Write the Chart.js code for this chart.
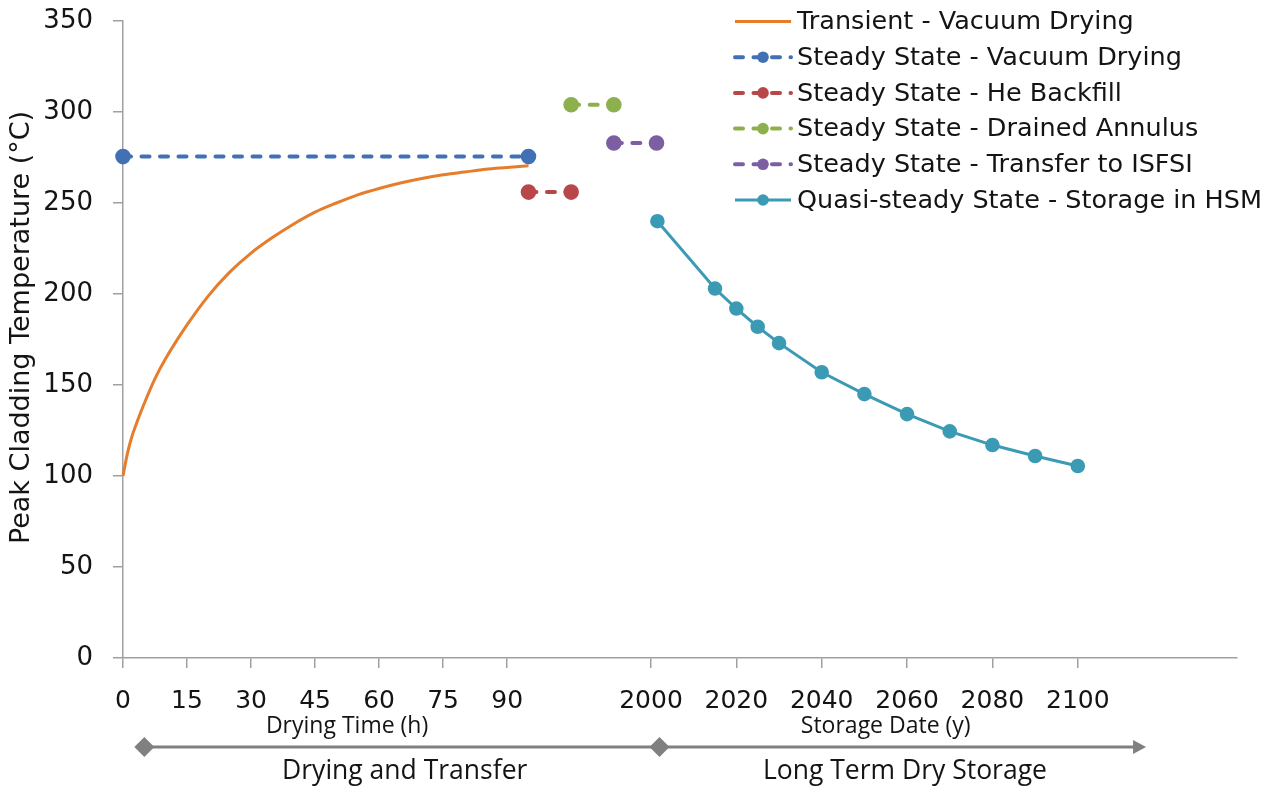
<!DOCTYPE html>
<html lang="en">
<head>
<meta charset="UTF-8">
<title>Peak Cladding Temperature</title>
<script src="https://cdn.jsdelivr.net/npm/chart.js"></script>
<style>
  html, body { margin: 0; padding: 0; background: #fff; }
</style>
</head>
<body>
<canvas id="pctChart" width="1271" height="789"></canvas>
<script>
// drying and transfer phase, x in hours
const dryHours = [0, 1, 2, 3.5, 5, 7.5, 10, 15, 20, 25, 30, 35, 40, 45, 50, 55, 60, 65, 70, 75, 80, 85, 90, 95];
const transientVac = [100, 112, 121, 131, 140, 153.5, 164.5, 183, 199, 212, 222.5, 231, 238.5, 245, 250, 254.5, 258, 261, 263.5, 265.5, 267, 268.5, 269.5, 270.5];

const steadyVacHours = [0, 95];
const steadyVac = [275.5, 275.5];
const heBackfillHours = [95, 105];
const heBackfill = [256, 256];
const drainedHours = [105, 115];
const drained = [304, 304];
const transferHours = [115, 125];
const transfer = [283, 283];

// long term storage, x in years
const storageYears = [2001.5, 2015, 2020, 2025, 2030, 2040, 2050, 2060, 2070, 2080, 2090, 2100];
const storageHSM = [240, 203, 192, 182, 173, 157, 145, 134, 124.5, 117, 111, 105.5];

const hourTicks = [0, 15, 30, 45, 60, 75, 90];
const yearTicks = [2000, 2020, 2040, 2060, 2080, 2100];
const tempTicks = [0, 50, 100, 150, 200, 250, 300, 350];

const HOUR_MIN = 0, HOUR_MAX = 261;
const YEAR_MIN = 1876.3, YEAR_MAX = 2137.3;

const TEXT = '#141414';
const GREY = '#a0a0a0';

function pairs(xs, ys) {
  return xs.map((x, i) => ({ x: x, y: ys[i] }));
}

function dashed(label, color, xs, ys) {
  return {
    label: label,
    data: pairs(xs, ys),
    borderColor: color,
    backgroundColor: color,
    pointBackgroundColor: color,
    pointBorderColor: color,
    borderWidth: 4,
    borderDash: [8, 10.5],
    borderCapStyle: 'round',
    pointRadius: 5.8,
    clip: false
  };
}

const datasets = [
  {
    label: 'Transient - Vacuum Drying',
    data: pairs(dryHours, transientVac),
    borderColor: '#e67d2c',
    borderWidth: 3,
    pointRadius: 0,
    cubicInterpolationMode: 'monotone',
    clip: false
  },
  dashed('Steady State - Vacuum Drying', '#4170b4', steadyVacHours, steadyVac),
  dashed('Steady State - He Backfill', '#b8474a', heBackfillHours, heBackfill),
  dashed('Steady State - Drained Annulus', '#8db04e', drainedHours, drained),
  dashed('Steady State - Transfer to ISFSI', '#7b5fa2', transferHours, transfer),
  {
    label: 'Quasi-steady State - Storage in HSM',
    data: pairs(storageYears, storageHSM),
    xAxisID: 'x2',
    borderColor: '#3b9ab4',
    backgroundColor: '#3b9ab4',
    pointBackgroundColor: '#3b9ab4',
    pointBorderColor: '#3b9ab4',
    borderWidth: 3,
    pointRadius: 5.8,
    clip: false
  }
];

// legend, axis title and the phase arrows below the axis
const extras = {
  id: 'extras',
  afterDraw(chart) {
    const ctx = chart.ctx;
    const area = chart.chartArea;
    const hx = chart.scales.x;
    const yx = chart.scales.x2;
    ctx.save();

    // y axis title
    ctx.save();
    ctx.translate(22, (area.top + area.bottom) / 2 - 12);
    ctx.rotate(-Math.PI / 2);
    ctx.font = '27px "DejaVu Sans"';
    ctx.fillStyle = TEXT;
    ctx.textAlign = 'center';
    ctx.textBaseline = 'middle';
    ctx.fillText('Peak Cladding Temperature (°C)', 0, 0);
    ctx.restore();

    // legend
    chart.data.datasets.forEach((ds, i) => {
      const y = 21.5 + i * 35.7;
      ctx.strokeStyle = ds.borderColor;
      ctx.lineWidth = ds.borderWidth;
      ctx.lineCap = ds.borderCapStyle || 'butt';
      ctx.setLineDash(ds.borderDash || []);
      ctx.beginPath();
      ctx.moveTo(735, y);
      ctx.lineTo(791, y);
      ctx.stroke();
      ctx.setLineDash([]);
      if (ds.pointRadius > 0) {
        ctx.fillStyle = ds.borderColor;
        ctx.beginPath();
        ctx.arc(763, y, ds.pointRadius, 0, Math.PI * 2);
        ctx.fill();
      }
      ctx.fillStyle = TEXT;
      ctx.font = '25.5px "DejaVu Sans"';
      ctx.textAlign = 'left';
      ctx.textBaseline = 'middle';
      ctx.fillText(ds.label, 797, y + 1);
    });

    // axis names
    const b = area.bottom;
    ctx.fillStyle = TEXT;
    ctx.textAlign = 'center';
    ctx.textBaseline = 'middle';
    ctx.font = '23px "Open Sans"';
    ctx.fillText('Drying Time (h)', hx.getPixelForValue(52.5), b + 68);
    ctx.fillText('Storage Date (y)', yx.getPixelForValue(2055), b + 68);

    // phase arrow
    const ay = b + 89;
    const x0 = hx.getPixelForValue(5);
    const x1 = yx.getPixelForValue(2002);
    const xt = yx.getPixelForValue(2116);
    ctx.strokeStyle = '#808080';
    ctx.fillStyle = '#808080';
    ctx.lineWidth = 3;
    ctx.lineCap = 'butt';
    ctx.beginPath();
    ctx.moveTo(x0, ay);
    ctx.lineTo(xt - 10, ay);
    ctx.stroke();
    ctx.beginPath();
    ctx.moveTo(xt, ay);
    ctx.lineTo(xt - 13, ay - 7);
    ctx.lineTo(xt - 13, ay + 7);
    ctx.closePath();
    ctx.fill();
    [x0, x1].forEach(x => {
      ctx.beginPath();
      ctx.moveTo(x, ay - 10);
      ctx.lineTo(x + 10, ay);
      ctx.lineTo(x, ay + 10);
      ctx.lineTo(x - 10, ay);
      ctx.closePath();
      ctx.fill();
    });

    ctx.fillStyle = TEXT;
    ctx.font = '26.5px "Open Sans"';
    ctx.fillText('Drying and Transfer', hx.getPixelForValue(66), b + 113);
    ctx.fillText('Long Term Dry Storage', yx.getPixelForValue(2059.5), b + 113);

    ctx.restore();
  }
};

new Chart(document.getElementById('pctChart'), {
  type: 'line',
  data: { datasets: datasets },
  options: {
    responsive: false,
    animation: false,
    devicePixelRatio: 1,
    layout: { padding: { top: 21, right: 34, left: 0, bottom: 0 } },
    plugins: {
      legend: { display: false },
      tooltip: { enabled: false }
    },
    scales: {
      x: {
        type: 'linear',
        position: 'bottom',
        min: HOUR_MIN,
        max: HOUR_MAX,
        border: { display: true, color: GREY, width: 1.5 },
        grid: { drawOnChartArea: false, drawTicks: true, tickLength: 10, color: GREY, lineWidth: 1.5 },
        ticks: {
          autoSkip: false,
          maxRotation: 0,
          minRotation: 0,
          padding: 18,
          color: TEXT,
          font: { family: '"DejaVu Sans"', size: 25 },
          callback: (v, i) => i < hourTicks.length ? hourTicks[i] : yearTicks[i - hourTicks.length]
        },
        afterBuildTicks: axis => {
          const k = (HOUR_MAX - HOUR_MIN) / (YEAR_MAX - YEAR_MIN);
          axis.ticks = hourTicks.map(v => ({ value: v }))
            .concat(yearTicks.map(yr => ({ value: HOUR_MIN + (yr - YEAR_MIN) * k })));
        },
        afterFit: axis => { axis.height = 131; }
      },
      x2: {
        type: 'linear',
        position: 'bottom',
        display: false,
        min: YEAR_MIN,
        max: YEAR_MAX
      },
      y: {
        min: 0,
        max: 350,
        border: { display: true, color: GREY, width: 1.5 },
        grid: { drawOnChartArea: false, drawTicks: true, tickLength: 10, color: GREY, lineWidth: 1.5 },
        ticks: {
          padding: 20,
          color: TEXT,
          font: { family: '"DejaVu Sans"', size: 26 }
        },
        afterBuildTicks: axis => { axis.ticks = tempTicks.map(v => ({ value: v })); },
        afterFit: axis => {
          axis.width = 123;
          axis.paddingTop = 0;
          axis.paddingBottom = 0;
        }
      }
    }
  },
  plugins: [extras]
});
</script>
</body>
</html>
